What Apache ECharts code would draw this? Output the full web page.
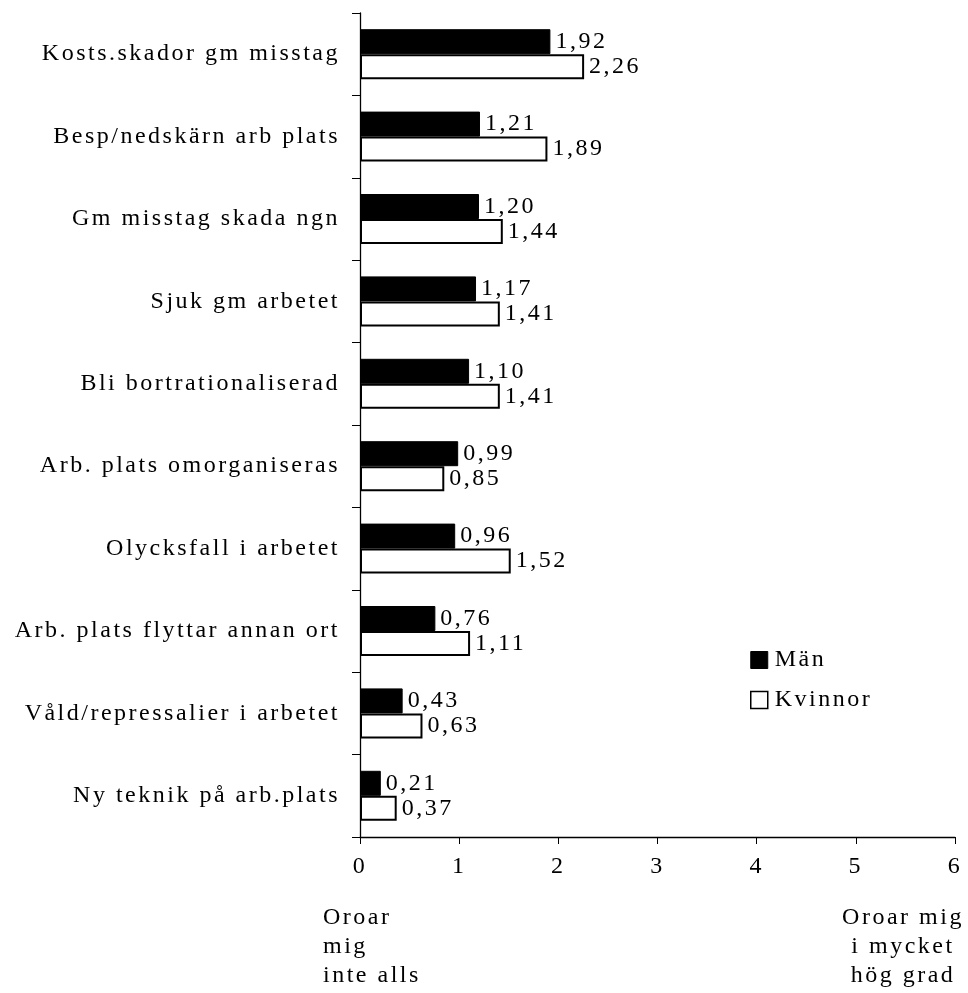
<!DOCTYPE html>
<html>
<head>
<meta charset="utf-8">
<script src="https://cdn.jsdelivr.net/npm/echarts@6/dist/echarts.min.js"></script>
<style>
    html, body { margin: 0; padding: 0; background: #fff; }
    #chart { width: 968px; height: 993px; }
</style>
</head>
<body>
<div id="chart"></div>
<script>
var categories = [
    'Kosts.skador gm misstag',
    'Besp/nedskärn arb plats',
    'Gm misstag skada ngn',
    'Sjuk gm arbetet',
    'Bli bortrationaliserad',
    'Arb. plats omorganiseras',
    'Olycksfall i arbetet',
    'Arb. plats flyttar annan ort',
    'Våld/repressalier i arbetet',
    'Ny teknik på arb.plats'
];
var man = [1.92, 1.21, 1.20, 1.17, 1.10, 0.99, 0.96, 0.76, 0.43, 0.21];
var kvinnor = [2.26, 1.89, 1.44, 1.41, 1.41, 0.85, 1.52, 1.11, 0.63, 0.37];
var xTicks = [0, 1, 2, 3, 4, 5, 6];

// spaced-out lettering like the original (canvas letterSpacing)
var origFill = CanvasRenderingContext2D.prototype.fillText;
CanvasRenderingContext2D.prototype.fillText = function () {
    this.letterSpacing = '2.5px';
    return origFill.apply(this, arguments);
};

var font = 'Liberation Serif';
var fs = 24;
var myChart = echarts.init(document.getElementById('chart'), null, { renderer: 'canvas' });

function comma(p) {
    return p.value.toFixed(2).replace('.', ',');
}

var valueLabel = {
    show: true,
    position: 'right',
    distance: 5,
    color: '#000',
    fontFamily: font,
    fontSize: fs,
    formatter: comma
};

var option = {
    backgroundColor: '#fff',
    animation: false,
    textStyle: { fontFamily: font },
    grid: { left: 360, right: 13, top: 13, bottom: 156, containLabel: false },
    legend: {
        orient: 'vertical',
        left: 745,
        top: 643,
        itemWidth: 17,
        itemHeight: 17,
        itemGap: 16,
        textStyle: { color: '#000', fontFamily: font, fontSize: fs, padding: [0, 0, 0, 2] },
        data: [
            { name: 'Män', icon: 'rect', itemStyle: { color: '#000', borderColor: '#000', borderWidth: 1 } },
            { name: 'Kvinnor', icon: 'rect', itemStyle: { color: '#fff', borderColor: '#000', borderWidth: 1.5 } }
        ]
    },
    xAxis: {
        type: 'value',
        min: xTicks[0],
        max: xTicks[xTicks.length - 1],
        interval: 1,
        axisLine: { show: true, lineStyle: { color: '#000', width: 1.3 } },
        axisTick: { show: true, length: 7, lineStyle: { color: '#000' } },
        splitLine: { show: false },
        axisLabel: { color: '#000', fontFamily: font, fontSize: fs, margin: 18 }
    },
    yAxis: {
        type: 'category',
        inverse: true,
        data: categories,
        axisLine: { show: true, lineStyle: { color: '#000', width: 1.3 } },
        axisTick: { show: true, length: 8, alignWithLabel: false, lineStyle: { color: '#000' } },
        axisLabel: { color: '#000', fontFamily: font, fontSize: fs, margin: 20 }
    },
    series: [
        {
            name: 'Män',
            type: 'bar',
            data: man,
            barWidth: 25,
            barGap: '0%',
            itemStyle: { color: '#000', borderColor: '#000', borderWidth: 1 },
            label: valueLabel
        },
        {
            name: 'Kvinnor',
            type: 'bar',
            data: kvinnor,
            barWidth: 25,
            itemStyle: { color: '#fff', borderColor: '#000', borderWidth: 2 },
            label: valueLabel
        }
    ],
    graphic: [
        {
            type: 'text',
            x: 323,
            y: 903,
            style: {
                text: 'Oroar\nmig\ninte alls',
                fontFamily: font,
                fontSize: fs,
                fill: '#000',
                lineHeight: 29
            }
        },
        {
            type: 'text',
            x: 903,
            y: 903,
            style: {
                text: 'Oroar mig\ni mycket\nhög grad',
                fontFamily: font,
                fontSize: fs,
                fill: '#000',
                align: 'center',
                lineHeight: 29
            }
        }
    ]
};

myChart.setOption(option);
</script>
</body>
</html>
